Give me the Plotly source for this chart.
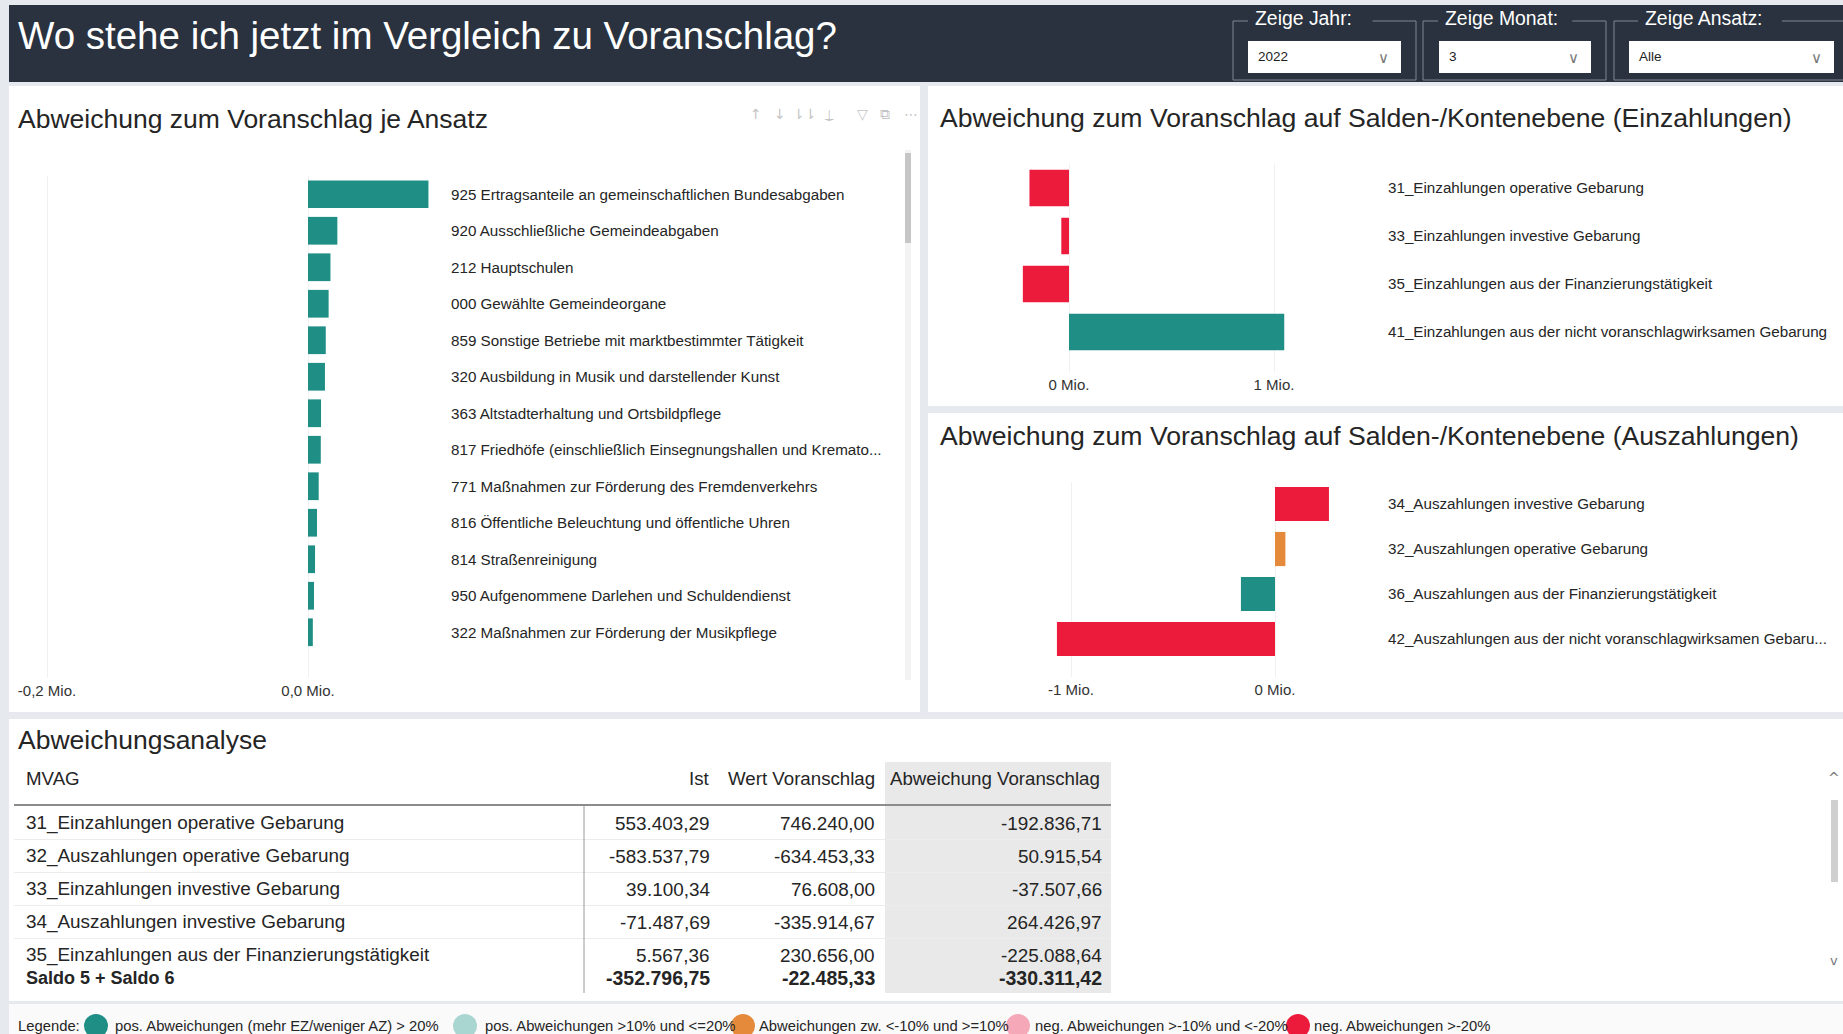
import plotly.graph_objects as go

W, H = 1843, 1034

# ---------------- data ----------------
ansatz_labels = [
    "925 Ertragsanteile an gemeinschaftlichen Bundesabgaben",
    "920 Ausschließliche Gemeindeabgaben",
    "212 Hauptschulen",
    "000 Gewählte Gemeindeorgane",
    "859 Sonstige Betriebe mit marktbestimmter Tätigkeit",
    "320 Ausbildung in Musik und darstellender Kunst",
    "363 Altstadterhaltung und Ortsbildpflege",
    "817 Friedhöfe (einschließlich Einsegnungshallen und Kremato...",
    "771 Maßnahmen zur Förderung des Fremdenverkehrs",
    "816 Öffentliche Beleuchtung und öffentliche Uhren",
    "814 Straßenreinigung",
    "950 Aufgenommene Darlehen und Schuldendienst",
    "322 Maßnahmen zur Förderung der Musikpflege",
]
ansatz_abw = [92300, 22500, 17200, 15800, 13600, 13000, 10000, 9800, 8200, 6900, 5400, 4600, 3700]
ansatz_ticks = [-0.2, 0.0]
ansatz_ticktext = ["-0,2 Mio.", "0,0 Mio."]

ez_labels = [
    "31_Einzahlungen operative Gebarung",
    "33_Einzahlungen investive Gebarung",
    "35_Einzahlungen aus der Finanzierungstätigkeit",
    "41_Einzahlungen aus der nicht voranschlagwirksamen Gebarung",
]
ez_abw = [-192836.71, -37507.66, -225088.64, 1050000.00]
ez_ticks = [0, 1]
ez_ticktext = ["0 Mio.", "1 Mio."]

az_labels = [
    "34_Auszahlungen investive Gebarung",
    "32_Auszahlungen operative Gebarung",
    "36_Auszahlungen aus der Finanzierungstätigkeit",
    "42_Auszahlungen aus der nicht voranschlagwirksamen Gebaru...",
]
az_abw = [264426.97, 50915.54, -167000.00, -1069000.00]
az_ticks = [-1, 0]
az_ticktext = ["-1 Mio.", "0 Mio."]

table_header = ["MVAG", "Ist", "Wert Voranschlag", "Abweichung Voranschlag"]
mvag = [
    "31_Einzahlungen operative Gebarung",
    "32_Auszahlungen operative Gebarung",
    "33_Einzahlungen investive Gebarung",
    "34_Auszahlungen investive Gebarung",
    "35_Einzahlungen aus der Finanzierungstätigkeit",
]
ist = [553403.29, -583537.79, 39100.34, -71487.69, 5567.36]
wert = [746240.00, -634453.33, 76608.00, -335914.67, 230656.00]
abw = [-192836.71, 50915.54, -37507.66, 264426.97, -225088.64]
total_label = "Saldo 5 + Saldo 6"
total_ist = -352796.75
total_wert = -22485.33
total_abw = -330311.42

legend_title = "Legende:"
legend_labels = [
    "pos. Abweichungen (mehr EZ/weniger AZ) > 20%",
    "pos. Abweichungen >10% und <=20%",
    "Abweichungen zw. <-10% und >=10%",
    "neg. Abweichungen >-10% und <-20%",
    "neg. Abweichungen >-20%",
]

page_title = "Wo stehe ich jetzt im Vergleich zu Voranschlag?"
panel_titles = [
    "Abweichung zum Voranschlag je Ansatz",
    "Abweichung zum Voranschlag auf Salden-/Kontenebene (Einzahlungen)",
    "Abweichung zum Voranschlag auf Salden-/Kontenebene (Auszahlungen)",
    "Abweichungsanalyse",
]
slicer_titles = ["Zeige Jahr:", "Zeige Monat:", "Zeige Ansatz:"]
slicer_values = ["2022", "3", "Alle"]

# ---------------- styles ----------------
FONT = "Liberation Sans, Arial, sans-serif"
TEAL = "#1f8f86"
LTEAL = "#a9d6d1"
ORANGE = "#e58a3a"
PINK = "#f5a8b7"
RED = "#ec1a3b"
DARK = "#29323e"
TXT = "#252525"
ansatz_colors = [TEAL] * len(ansatz_labels)
ez_colors = [RED, RED, RED, TEAL]
az_colors = [RED, ORANGE, TEAL, RED]
legend_colors = [TEAL, LTEAL, ORANGE, PINK, RED]


def X(p):
    return p / W


def Y(p):
    return 1 - p / H


def de(v):
    s = f"{v:,.2f}"
    return s.replace(",", "X").replace(".", ",").replace("X", ".")


fig = go.Figure()
shapes = []
ann = []


def rect(x0, y0, x1, y1, fill, line=None, lw=0, layer="below"):
    shapes.append(dict(type="rect", xref="paper", yref="paper",
                       x0=X(x0), x1=X(x1), y0=Y(y1), y1=Y(y0),
                       fillcolor=fill, line=dict(width=lw, color=line or fill),
                       layer=layer))


def hline(x0, x1, y, color, w=1, layer="above"):
    shapes.append(dict(type="line", xref="paper", yref="paper",
                       x0=X(x0), x1=X(x1), y0=Y(y), y1=Y(y),
                       line=dict(color=color, width=w), layer=layer))


def vline(x, y0, y1, color, w=1, layer="above"):
    shapes.append(dict(type="line", xref="paper", yref="paper",
                       x0=X(x), x1=X(x), y0=Y(y0), y1=Y(y1),
                       line=dict(color=color, width=w), layer=layer))


def text(x, y, s, size, color=TXT, xanchor="left", family=FONT, bold=False):
    if bold:
        s = "<b>" + s + "</b>"
    ann.append(dict(x=X(x), y=Y(y), xref="paper", yref="paper", text=s,
                    showarrow=False, xanchor=xanchor, yanchor="middle",
                    font=dict(size=size, color=color, family=family)))


# ---------------- backgrounds ----------------
rect(9, 5, 1843, 82, DARK)
rect(9, 86, 920, 712, "white")
rect(928, 86, 1843, 406, "white")
rect(928, 413, 1843, 712, "white")
rect(9, 719, 1843, 1001, "white")
rect(9, 1004, 1843, 1034, "#fafafa")

# header title + slicers
text(16, 35, page_title, 38.5, "white")
slicers = [(1233, 1416, 1253, 1248, 1401), (1423, 1606, 1443, 1439, 1591), (1614, 1850, 1643, 1629, 1834)]
for (fx0, fx1, lx, bx0, bx1), t, v in zip(slicers, slicer_titles, slicer_values):
    lab_w = 14 + 9.6 * len(t)
    vline(fx0, 21, 80, "#7f8792")
    vline(fx1, 21, 80, "#7f8792")
    hline(fx0, fx1, 80, "#7f8792")
    hline(fx0, lx - 5, 21, "#7f8792")
    hline(lx + lab_w, fx1, 21, "#7f8792")
    text(lx, 18, t, 19.4, "white")
    rect(bx0, 41, bx1, 73, "white", layer="above")
    text(bx0 + 8, 57, v, 13.5, "#222")
    text(bx1 - 18, 58, "\u2228", 15, "#777", xanchor="center", family="DejaVu Sans")

# panel titles
text(16, 119, panel_titles[0], 26.5)
text(938, 118, panel_titles[1], 26.6)
text(938, 436, panel_titles[2], 26.6)
text(16, 740, panel_titles[3], 26.5)

# toolbar icons
for xx, g in zip([756, 780, 804, 829, 862, 885, 911], ["↑", "↓", "⇂⇂", "⍊", "▽", "⧉", "⋯"]):
    text(xx, 114, g, 14, "#c4c4c4", xanchor="center", family="DejaVu Sans")

# left panel scrollbar
rect(905, 150, 911, 680, "#f3f3f3")
rect(905, 153, 911, 243, "#c6c6c6", layer="above")

# ---------------- bar charts ----------------
fig.add_trace(go.Bar(y=ansatz_labels, x=[v / 1e6 for v in ansatz_abw], orientation="h",
                     marker=dict(color=ansatz_colors, line=dict(width=0)),
                     xaxis="x", yaxis="y", hoverinfo="skip"))
fig.add_trace(go.Bar(y=ez_labels, x=[v / 1e6 for v in ez_abw], orientation="h",
                     marker=dict(color=ez_colors, line=dict(width=0)),
                     xaxis="x2", yaxis="y2", hoverinfo="skip"))
fig.add_trace(go.Bar(y=az_labels, x=[v / 1e6 for v in az_abw], orientation="h",
                     marker=dict(color=az_colors, line=dict(width=0)),
                     xaxis="x3", yaxis="y3", hoverinfo="skip"))


def xax(px0, px1, zero_px, px_per_mio, ticks, ticktext, anchor):
    return dict(domain=[X(px0), X(px1)], anchor=anchor,
                range=[(px0 - zero_px) / px_per_mio, (px1 - zero_px) / px_per_mio],
                tickvals=ticks, ticktext=ticktext, showgrid=True, gridcolor="#f1f1f1",
                zeroline=False, showline=False, ticks="", ticklabelstandoff=2,
                automargin=False, fixedrange=True,
                tickfont=dict(size=15, color="#333", family=FONT))


def yax(top, bottom, row_px, labels, anchor):
    n = (bottom - top) / row_px
    return dict(domain=[Y(bottom), Y(top)], range=[n - 0.5, -0.5],
                categoryorder="array", categoryarray=labels, type="category",
                side="right", anchor=anchor, showgrid=False, zeroline=False, showline=False,
                ticks="", ticklabelstandoff=7, automargin=False, fixedrange=True,
                tickfont=dict(size=15.2, color=TXT, family=FONT))


fig.update_layout(
    xaxis=xax(20, 443, 308, 1305, ansatz_ticks, ansatz_ticktext, "y"),
    yaxis=yax(176, 678, 36.5, ansatz_labels, "x"),
    xaxis2=xax(1010, 1380, 1069, 205, ez_ticks, ez_ticktext, "y2"),
    yaxis2=yax(164, 372, 48, ez_labels, "x2"),
    xaxis3=xax(1010, 1380, 1275, 204, az_ticks, az_ticktext, "y3"),
    yaxis3=yax(481.5, 677, 45, az_labels, "x3"),
)

# ---------------- table ----------------
rect(885, 762, 1111, 993, "#e9e9e9")
text(24, 778, table_header[0], 18.7)
text(712, 778, table_header[1], 18.7, xanchor="right")
text(877, 778, table_header[2], 18.7, xanchor="right")
text(1102, 778, table_header[3], 18.7, xanchor="right")
hline(14, 1111, 805, "#8c8c8c", 2)
vline(584, 806, 993, "#9a9a9a", 1)
row_y0, row_h = 823, 33
for i, (m, a, b, c) in enumerate(zip(mvag, ist, wert, abw)):
    yy = row_y0 + i * row_h
    text(24, yy, m, 18.9)
    text(712, yy, de(a), 18.9, xanchor="right")
    text(877, yy, de(b), 18.9, xanchor="right")
    text(1104, yy, de(c), 18.9, xanchor="right")
    if i < len(mvag) - 1:
        hline(14, 1111, yy + 16.5, "#ececec", 1, layer="below")
text(24, 978, total_label, 18, bold=True)
text(712, 978, de(total_ist), 19.5, xanchor="right", bold=True)
text(877, 978, de(total_wert), 19.5, xanchor="right", bold=True)
text(1104, 978, de(total_abw), 19.5, xanchor="right", bold=True)

# table scrollbar
text(1834, 778, "^", 14, "#777", xanchor="center", family="DejaVu Sans")
text(1834, 960, "v", 13, "#777", xanchor="center", family="DejaVu Sans")
rect(1831, 800, 1838, 882, "#cfcfcf", layer="above")

# ---------------- legend ----------------
text(16, 1026, legend_title, 14.8)
for cx, tx, lab, col in zip([96, 465, 743, 1018, 1298], [113, 483, 757, 1033, 1312],
                            legend_labels, legend_colors):
    shapes.append(dict(type="circle", xref="paper", yref="paper",
                       x0=X(cx - 12), x1=X(cx + 12), y0=Y(1026 + 12), y1=Y(1026 - 12),
                       fillcolor=col, line=dict(width=0), layer="below"))
    text(tx, 1026, lab, 14.8)

fig.update_layout(
    width=W, height=H, margin=dict(l=0, r=0, t=0, b=0), autosize=False,
    paper_bgcolor="#e6e9ed", plot_bgcolor="rgba(0,0,0,0)",
    template="none", showlegend=False, bargap=0.24,
    shapes=shapes, annotations=ann, font=dict(family=FONT),
)

fig.write_html("out.html", config={"displayModeBar": False, "staticPlot": True},
               post_script="document.body.style.margin='0';document.body.style.overflow='hidden';")
